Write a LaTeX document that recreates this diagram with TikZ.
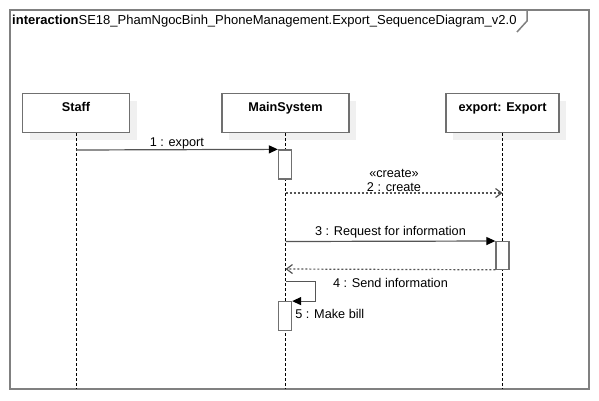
\documentclass[tikz,border=0pt]{standalone}
\usepackage{fontspec}
\setmainfont{Liberation Sans}
\usepackage{tikz}
\usetikzlibrary{arrows.meta, positioning, shadows}
\definecolor{myframe}{RGB}{128,128,128}
\definecolor{myborder}{RGB}{112,112,112}
\definecolor{myline}{RGB}{85,85,85}
\definecolor{myshadow}{RGB}{240,240,240}
\tikzset{
  lifebox/.style={rectangle, draw=myborder, fill=white, line width=1.3pt,
    minimum height=39pt, inner sep=0pt,
    drop shadow={shadow xshift=7pt, shadow yshift=-7pt, fill=myshadow, opacity=1}},
  lifename/.style={font=\fontsize{12.7}{14}\selectfont\bfseries, anchor=north, yshift=-6pt},
  actbox/.style={rectangle, draw=myborder, fill=white, line width=1.3pt,
    minimum width=13pt, inner sep=0pt},
  lifeline/.style={black, line width=1pt, dash pattern=on 3pt off 2pt},
  frameline/.style={myframe, line width=1.5pt},
  msg/.style={-{Triangle[length=9pt, width=8pt, color=black]}, myline, line width=1.2pt},
  retmsg/.style={-{Straight Barb[length=6pt, width=9pt]}, myline, line width=1.2pt,
    dash pattern=on 2pt off 2pt},
  msglabel/.style={text=black, inner sep=2pt}
}

\begin{document}
\begin{tikzpicture}[x=1pt, y=-1pt, font=\fontsize{12.7}{14}\selectfont]
  \useasboundingbox (0,0) rectangle (599,400);

  % Frame
  \draw[frameline] (10,10) rectangle (589,389);
  \draw[frameline] (517,32) -- (527,21) -- (527,10);
  \node (title) at (12,21) [anchor=west, inner sep=0pt, font=\fontsize{13}{15}\selectfont]
    {\textbf{interaction}SE18\_PhamNgocBinh\_PhoneManagement.Export\_SequenceDiagram\_v2.0};

  % Lifeline heads
  \node (staff) at (76,113) [lifebox, minimum width=107pt,
    label={[lifename]north:Staff}] {};
  \node (main) at (285.5,113) [lifebox, minimum width=127pt,
    label={[lifename]north:MainSystem}] {};
  \node (export) at (502.5,113) [lifebox, minimum width=113pt,
    label={[lifename]north:export: Export}] {};

  % Lifelines
  \coordinate (staffend) at (76,389);
  \coordinate (mainend) at (285.5,389);
  \coordinate (exportend) at (502.5,389);
  \draw[lifeline] (staff) -- (staffend);
  \draw[lifeline] (main) -- (mainend);
  \draw[lifeline] (export) -- (exportend);

  % Activations
  \node (act1) at (285,164.5) [actbox, minimum height=29pt] {};
  \node (act2) at (502.5,255.4) [actbox, minimum height=27.5pt] {};
  \node (act3) at (285,316) [actbox, minimum height=28.5pt] {};

  % Messages
  \coordinate (m1) at (76,150);
  \draw[msg] (m1) -- (act1.north west)
    node[midway, above, msglabel, yshift=-2pt] {1 : export};

  \coordinate (m2s) at (285.5,193);
  \coordinate (m2e) at (502.5,193);
  \draw[retmsg] (m2s) -- (m2e)
    node[midway, above, msglabel, align=center, yshift=-1pt] {«create»\\2 : create};

  \coordinate (m3) at (285.5,241.5);
  \draw[msg] (m3) -- (act2.north west)
    node[midway, above, msglabel, yshift=1pt] {3 : Request for information};

  \coordinate (m4) at (285.5,269);
  \draw[retmsg] (act2.south west) -- (m4)
    node[midway, below, msglabel, yshift=-6pt] {4 : Send information};

  \coordinate (m5) at (285.5,281.5);
  \draw[msg] (m5) -- ++(30,0) |- (act3.north east);
  \node (bill) [right=1pt of act3, msglabel, yshift=2pt] {5 : Make bill};
\end{tikzpicture}
\end{document}
